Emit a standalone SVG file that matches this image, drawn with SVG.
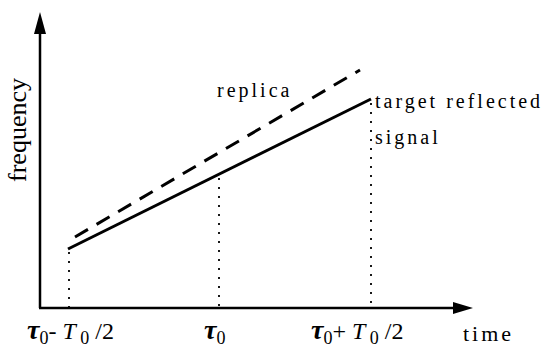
<svg xmlns="http://www.w3.org/2000/svg" width="543" height="347" viewBox="0 0 543 347">
<style>
.ax{stroke:#000;stroke-width:2.5;fill:none}
.sol{stroke:#000;stroke-width:3;fill:none}
.dash{stroke:#000;stroke-width:3;fill:none;stroke-dasharray:15 10}
.dot{stroke:#000;stroke-width:1.8;fill:none;stroke-dasharray:2 7}
.t{font-family:"Liberation Serif","Times New Roman",serif;font-size:20px;fill:#000;letter-spacing:3px}
.m{font-family:"Liberation Serif","Times New Roman",serif;font-size:24px;fill:#000}
.tau{font-style:italic;font-weight:bold;font-size:28px}
.sub{font-size:18px}
</style>
<rect width="543" height="347" fill="#fff"/>
<g id="axes">
<line class="ax" x1="40" y1="308" x2="40" y2="30"/>
<polygon points="40,12 34,34 46,34" fill="#000"/>
<line class="ax" x1="39" y1="308" x2="456" y2="308"/>
<polygon points="473,308 453,302 453,314" fill="#000"/>
</g>
<g id="connectors">
<line id="replica" class="dash" x1="75" y1="237" x2="360" y2="70"/>
<line id="signal" class="sol" x1="68" y1="249" x2="371" y2="99"/>
<line class="dot" x1="69" y1="252" x2="69" y2="308"/>
<line class="dot" x1="219" y1="178" x2="219" y2="308"/>
<line class="dot" x1="371" y1="103" x2="371" y2="308"/>
</g>
<g id="labels">
<text class="m" transform="translate(26,130) rotate(-90)" text-anchor="middle" style="font-size:26px">frequency</text>
<text class="t" x="217" y="97">replica</text>
<text class="t" x="375" y="108">target reflected</text>
<text class="t" x="375" y="144">signal</text>
<text class="t" x="463" y="341" style="font-size:22px">time</text>
<text class="m" x="27" y="339"><tspan class="tau">τ</tspan><tspan class="sub" dy="5">0</tspan><tspan dy="-5">- </tspan><tspan font-style="italic">T</tspan><tspan class="sub" dy="5"> 0</tspan><tspan dy="-5"> /2</tspan></text>
<text class="m" x="204" y="339"><tspan class="tau">τ</tspan><tspan class="sub" dy="5">0</tspan></text>
<text class="m" x="311" y="339"><tspan class="tau">τ</tspan><tspan class="sub" dy="5">0</tspan><tspan dy="-5">+ </tspan><tspan font-style="italic">T</tspan><tspan class="sub" dy="5"> 0</tspan><tspan dy="-5"> /2</tspan></text>
</g>
</svg>
